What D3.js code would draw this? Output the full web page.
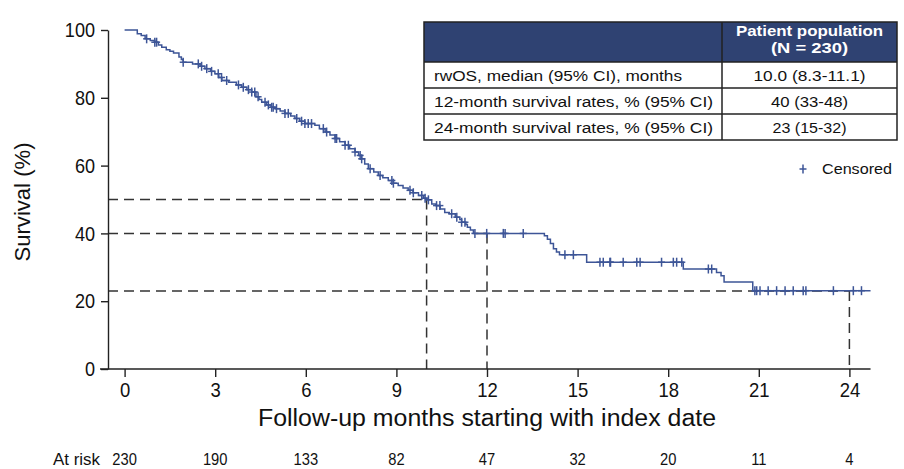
<!DOCTYPE html>
<html><head><meta charset="utf-8">
<script src="https://cdn.jsdelivr.net/npm/d3@7"></script>
<style>body{margin:0;background:#fff} text{font-family:"Liberation Sans",Arial,sans-serif}</style>
</head><body><svg id="c" width="904" height="469"></svg>
<script>
// Kaplan-Meier step data (time in months, survival % after the step)
const stepTimes = [0,0.42,0.55,0.68,0.85,1.0,1.12,1.23,1.38,1.5,1.62,1.8,1.88,1.94,2.25,2.5,2.66,2.85,2.99,3.12,3.22,3.45,3.7,3.88,4.05,4.21,4.35,4.45,4.54,4.7,4.85,5.0,5.15,5.31,5.5,5.64,5.8,5.97,6.3,6.45,6.64,6.8,6.97,7.12,7.3,7.45,7.63,7.75,7.85,7.95,8.07,8.25,8.4,8.55,8.73,8.9,9.06,9.22,9.39,9.55,9.73,9.9,10.0,10.17,10.3,10.45,10.6,10.75,10.95,11.1,11.16,11.3,11.35,11.45,11.55,13.9,14.0,14.1,14.2,14.3,14.4,15.3,18.5,19.6,19.75,19.85,20.8,24.7];
const stepSurv  = [100,98.9,98.4,97.4,96.9,96.4,95.6,94.9,94.2,93.7,93.2,92.0,91.3,90.5,90.0,89.3,88.6,87.8,87.1,86.0,85.1,84.6,83.8,83.1,82.4,81.7,80.3,79.5,78.7,77.9,77.2,76.8,76.1,75.4,74.6,73.9,73.1,72.4,71.9,70.9,69.9,69.0,68.0,67.0,66.0,65.0,64.0,63.0,62.0,60.5,59.1,58.1,57.1,56.4,55.6,54.8,54.1,53.4,52.7,52.0,51.2,50.4,49.9,48.7,48.2,47.2,46.2,45.8,44.8,44.1,43.3,42.6,41.8,41.0,40.0,39.3,38.3,37.0,35.5,34.5,33.7,31.5,29.5,28.5,27.5,25.7,23.1,23.1];
const censorTimes = [0.73,1.0,1.06,1.94,2.44,2.55,2.72,2.88,3.1,3.21,3.38,3.77,3.93,4.1,4.21,4.31,4.42,4.65,4.76,4.87,4.92,5.03,5.31,5.42,5.7,5.86,5.97,6.08,6.19,6.58,6.69,6.97,7.02,7.3,7.41,7.63,7.8,7.85,8.13,8.46,8.85,8.9,9.45,9.56,9.84,9.95,10.06,10.33,10.44,10.83,11.0,11.16,11.27,11.6,11.99,12.54,12.6,13.2,14.58,14.86,15.74,15.85,16.07,16.09,16.51,16.96,17.07,17.78,18.17,18.28,18.45,19.33,19.44,20.87,20.93,21.04,21.31,21.59,21.87,22.14,22.47,22.56,23.47,24.13,24.4];
const xTicks = [0,3,6,9,12,15,18,21,24];
const yTicks = [0,20,40,60,80,100];
const atRisk = [230,190,133,82,47,32,20,11,4];
const refTimes = [10,12,24];
const refSurv = [50,40,23];
const tableHeader = ["Patient population","(N = 230)"];
const tableLabels = ["rwOS, median (95% CI), months","12-month survival rates, % (95% CI)","24-month survival rates, % (95% CI)"];
const tableValues = ["10.0 (8.3-11.1)","40 (33-48)","23 (15-32)"];

const svg = d3.select("#c");
const x = d3.scaleLinear().domain([0,24]).range([124.6,849.4]);
const y = d3.scaleLinear().domain([0,100]).range([369,30]);
const axisX = 108;
const curveColor = "#3d5597";

function fitW(sel, w){ sel.attr("textLength", w).attr("lengthAdjust","spacingAndGlyphs"); }
function squeeze(sel, k){ sel.each(function(){ const L=this.getComputedTextLength(); this.setAttribute("textLength", L*k); this.setAttribute("lengthAdjust","spacingAndGlyphs"); }); }

// reference dashed lines
const gRef = svg.append("g").attr("stroke","#333").attr("stroke-width",1.5).attr("stroke-dasharray","10,6").attr("fill","none");
refTimes.forEach((t,i)=>{
  gRef.append("line").attr("x1",axisX).attr("x2",x(t)).attr("y1",y(refSurv[i])).attr("y2",y(refSurv[i]));
  gRef.append("line").attr("x1",x(t)).attr("x2",x(t)).attr("y1",y(refSurv[i])).attr("y2",y(0));
});

// KM curve
const pts = stepTimes.map((t,i)=>[t,stepSurv[i]]);
const line = d3.line().x(d=>x(d[0])).y(d=>y(d[1])).curve(d3.curveStepAfter);
svg.append("path").attr("d",line(pts)).attr("fill","none").attr("stroke",curveColor).attr("stroke-width",1.5);

function survAt(t){let s=100;for(let i=0;i<stepTimes.length;i++){if(stepTimes[i]<=t)s=stepSurv[i];}return s;}
const gC = svg.append("g").attr("stroke",curveColor).attr("stroke-width",1.5);
censorTimes.forEach(t=>{
  const cx=x(t), cy=y(survAt(t));
  gC.append("line").attr("x1",cx).attr("x2",cx).attr("y1",cy-4.5).attr("y2",cy+4.5);
  gC.append("line").attr("x1",cx-3.5).attr("x2",cx+3.5).attr("y1",cy).attr("y2",cy);
});

// Y axis
const yAx = svg.append("g").attr("transform",`translate(${axisX},0)`)
  .call(d3.axisLeft(y).tickValues(yTicks).tickSize(7).tickSizeOuter(0).tickPadding(6));
yAx.select(".domain").attr("stroke","#222").attr("stroke-width",1.4);
yAx.selectAll(".tick line").attr("stroke","#222").attr("stroke-width",1.4);
yAx.selectAll(".tick text").attr("font-size",21).attr("fill","#111").attr("font-family","Liberation Sans, Arial, sans-serif").call(squeeze,0.86);

// X axis
svg.append("line").attr("x1",axisX-8).attr("x2",x(24.7)).attr("y1",y(0)).attr("y2",y(0)).attr("stroke","#222").attr("stroke-width",1.4);
const xAx = svg.append("g").attr("transform",`translate(0,${y(0)})`)
  .call(d3.axisBottom(x).tickValues(xTicks).tickSize(8).tickSizeOuter(0).tickPadding(5));
xAx.select(".domain").remove();
xAx.selectAll(".tick line").attr("stroke","#222").attr("stroke-width",1.4);
xAx.selectAll(".tick text").attr("font-size",21).attr("fill","#111").attr("font-family","Liberation Sans, Arial, sans-serif").call(squeeze,0.88);

svg.append("text").attr("x",487).attr("y",426).attr("text-anchor","middle").attr("font-size",23).attr("fill","#111")
  .text("Follow-up months starting with index date").call(fitW,458);
svg.append("text").attr("transform","translate(30,202) rotate(-90)").attr("text-anchor","middle").attr("font-size",22).attr("fill","#111")
  .text("Survival (%)").call(fitW,119);

// At risk row
svg.append("text").attr("x",53).attr("y",465).attr("font-size",16).attr("fill","#111").text("At risk").call(fitW,47);
svg.selectAll("text.ar").data(atRisk).join("text").attr("class","ar")
  .attr("x",(d,i)=>x(xTicks[i])).attr("y",465).attr("text-anchor","middle").attr("font-size",16).attr("fill","#111").text(d=>d).call(squeeze,0.92);

// Legend
const lgx=803, lgy=169;
svg.append("line").attr("x1",lgx).attr("x2",lgx).attr("y1",lgy-4.5).attr("y2",lgy+4.5).attr("stroke",curveColor).attr("stroke-width",1.5);
svg.append("line").attr("x1",lgx-3.5).attr("x2",lgx+3.5).attr("y1",lgy).attr("y2",lgy).attr("stroke",curveColor).attr("stroke-width",1.5);
svg.append("text").attr("x",822).attr("y",lgy+5).attr("font-size",15).attr("fill","#111").text("Censored").call(fitW,70);

// Table
const tx0=424, tx1=897, tdiv=722, ty0=22, th=40, rh=26;
const tcx=(tdiv+tx1)/2;
const tbl = svg.append("g");
tbl.append("rect").attr("x",tx0).attr("y",ty0).attr("width",tx1-tx0).attr("height",th).attr("fill","#2f4272");
const hdrW=[147,77];
tbl.selectAll("text.h").data(tableHeader).join("text").attr("class","h")
  .attr("x",tcx).attr("y",(d,i)=>ty0+14+i*17).attr("text-anchor","middle").attr("font-size",15).attr("font-weight","bold").attr("fill","#fff").text(d=>d)
  .each(function(d,i){ d3.select(this).call(fitW,hdrW[i]); });
const labW=[248,279,279], valW=[112,77,74];
tableLabels.forEach((lab,i)=>{
  const yy=ty0+th+i*rh;
  tbl.append("text").attr("x",tx0+10).attr("y",yy+19).attr("font-size",15.5).attr("fill","#111").text(lab).call(fitW,labW[i]);
  tbl.append("text").attr("x",tcx).attr("y",yy+19).attr("text-anchor","middle").attr("font-size",15.5).attr("fill","#111").text(tableValues[i]).call(fitW,valW[i]);
});
const bl = tbl.append("g").attr("stroke","#222").attr("stroke-width",1.5).attr("fill","none");
bl.append("rect").attr("x",tx0).attr("y",ty0).attr("width",tx1-tx0).attr("height",th+3*rh);
bl.append("line").attr("x1",tdiv).attr("x2",tdiv).attr("y1",ty0).attr("y2",ty0+th+3*rh);
for(let i=0;i<3;i++){bl.append("line").attr("x1",tx0).attr("x2",tx1).attr("y1",ty0+th+i*rh).attr("y2",ty0+th+i*rh);}
</script></body></html>
